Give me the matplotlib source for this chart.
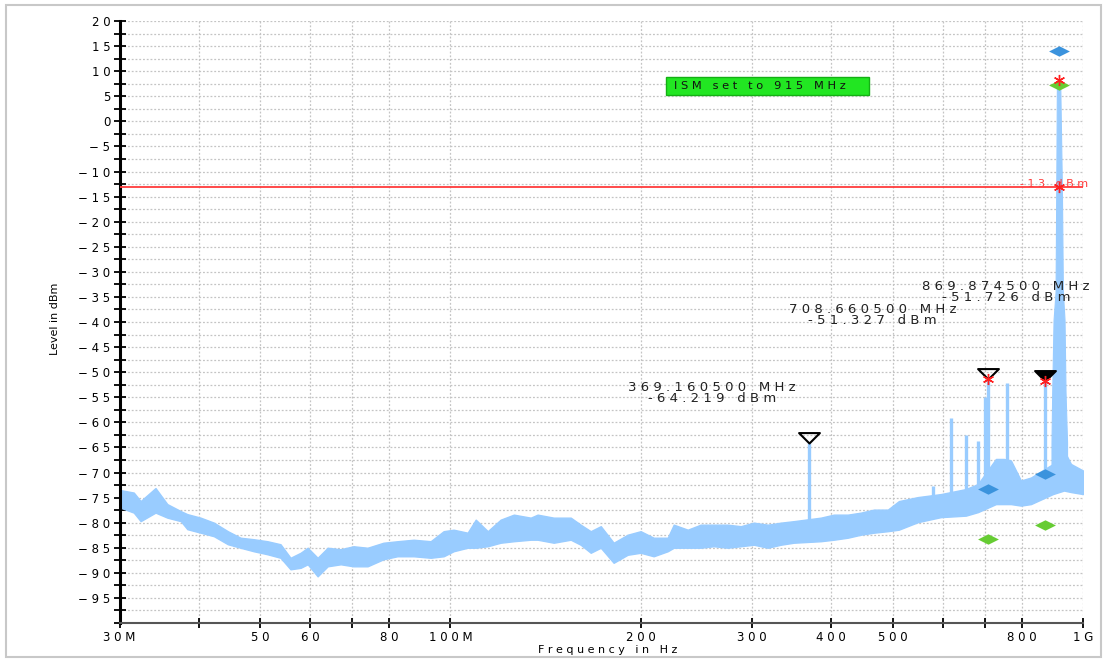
import numpy as np
import matplotlib
matplotlib.use('Agg')
import matplotlib.pyplot as plt
import matplotlib.transforms as mtransforms
from matplotlib.path import Path
from matplotlib.markers import MarkerStyle
from matplotlib.patches import Rectangle
from matplotlib.ticker import FixedLocator, MultipleLocator, NullLocator

# ---- trace (MHz / dBm) ----
floor_freq = [30.1, 31.6, 32.4, 34.2, 35.7, 37.5, 38.4, 40.3, 42.3, 44.5, 46.6, 48.9, 51.4, 53.9,
              55.9, 58.0, 59.5, 61.7, 64.0, 67.1, 70.3, 74.0, 78.4, 82.5, 87.5, 93.1, 97.6, 101.2,
              106.5, 109.7, 114.6, 120.1, 126.0, 134.0, 137.4, 145.7, 155.0, 160.7, 166.7, 172.9,
              181.2, 190.7, 199.9, 209.6, 220.6, 225.5, 237.3, 248.7, 260.8, 274.4, 287.8, 301.8,
              317.5, 332.9, 349.0, 385.1, 403.8, 424.9, 445.5, 467.1, 491.5, 511.6, 548.3, 596.2,
              653.0, 682.2, 728.4, 749.9, 769.3, 797.8, 827.4, 896.4, 933.1, 957.1, 1000.0]
floor_hi = [-73.5, -74.0, -75.7, -73.1, -76.3, -77.7, -78.3, -79.0, -80.0, -81.7, -83.0, -83.3, -83.7, -84.3,
            -87.0, -86.0, -85.0, -87.0, -85.0, -85.3, -84.7, -85.0, -84.0, -83.7, -83.4, -83.7, -81.7, -81.4,
            -82.0, -79.4, -81.7, -79.4, -78.4, -79.0, -78.4, -79.0, -79.0, -80.4, -81.7, -80.7,
            -84.0, -82.4, -81.7, -83.0, -83.0, -80.4, -81.4, -80.4, -80.4, -80.4, -80.7, -80.0,
            -80.4, -80.0, -79.7, -79.0, -78.4, -78.4, -78.0, -77.4, -77.4, -75.7, -74.9, -74.3,
            -73.3, -72.3, -67.3, -67.3, -67.6, -71.6, -71.0, -68.3, -65.6, -68.3, -69.6]
floor_lo = [-77.0, -78.0, -79.7, -78.0, -79.0, -79.7, -81.3, -82.0, -82.7, -84.3, -85.0, -85.7, -86.3, -87.0,
            -89.3, -89.0, -88.3, -90.7, -88.7, -88.3, -88.7, -88.7, -87.3, -86.7, -86.7, -87.0, -86.7, -85.7,
            -85.0, -85.0, -84.7, -84.0, -83.7, -83.4, -83.4, -84.0, -83.4, -84.4, -86.0, -85.0,
            -88.0, -86.4, -86.0, -86.7, -85.7, -85.0, -85.0, -85.0, -84.7, -85.0, -84.7, -84.4,
            -85.0, -84.4, -84.0, -83.7, -83.4, -83.0, -82.4, -82.0, -81.7, -81.4, -79.9, -78.9,
            -78.6, -77.9, -76.3, -76.3, -76.3, -76.6, -76.3, -74.3, -73.6, -73.9, -74.3]

spike_freq = [369.16, 579.1, 618.3, 653.0, 682.2, 699.8, 708.66, 758.2, 869.87]
spike_top = [-64.2, -72.6, -59.1, -62.6, -63.8, -55.0, -51.3, -52.1, -51.7]
spike_base = [-81.0, -77.0, -76.0, -75.0, -74.0, -72.0, -72.0, -70.0, -70.0]

carrier_freq = [891.7, 894.0, 898.4, 905.0, 907.3, 909.3, 915.0, 920.7, 926.0, 929.4, 935.0, 938.4, 943.6]
carrier_top = [-64.0, -54.0, -39.6, -34.0, -13.0, 6.5, 7.0, 6.5, -13.0, -34.0, -39.6, -54.0, -64.0]

# ---- markers ----
marker_freq = [369.1605, 708.6605, 869.8745]
marker_level = [-64.219, -51.327, -51.726]
marker_filled = [False, False, True]
marker_text = ['369.160500 MHz\n-64.219 dBm', '708.660500 MHz\n-51.327 dBm', '869.874500 MHz\n-51.726 dBm']
label_freq = [259.4, 464.6, 755.0]
label_level = [-54.1, -38.6, -34.0]

blue_freq = [915.0, 708.66, 869.87]
blue_level = [14.0, -73.3, -70.2]
green_freq = [915.0, 708.66, 869.87]
green_level = [7.2, -83.3, -80.5]
red_freq = [915.0, 915.0, 708.66, 869.87]
red_level = [8.3, -13.0, -51.327, -51.726]

limit_level = -13

x_ticks = [30, 40, 50, 60, 70, 80, 100, 200, 300, 400, 500, 600, 700, 800, 1000]
x_labels = ['30M', '', '50', '60', '', '80', '100M', '200', '300', '400', '500', '', '', '800', '1G']
y_ticks = list(range(20, -100, -5))

TRACE = '#99ccff'


def spaced(s):
    # the analyzer font is drawn with wide letter spacing
    return '\n'.join(' '.join(line) for line in s.split('\n'))


tri = MarkerStyle(Path([(-1, 1), (1, 1), (0, 0), (-1, 1)], closed=True))
diamond = MarkerStyle(Path([(-1, 0), (0, 0.5), (1, 0), (0, -0.5), (-1, 0)], closed=True))

fig = plt.figure(figsize=(11.12, 6.6), dpi=100)
ax = fig.add_axes([119.5 / 1112, 1 - 623 / 660, (1083 - 119.5) / 1112, (623 - 21) / 660])
ax.set_xscale('log')
ax.set_xlim(30, 1000)
ax.set_ylim(-100, 20)

# trace
ax.fill_between(floor_freq, floor_lo, floor_hi, color=TRACE, lw=1.0, zorder=2)
ax.vlines(spike_freq, spike_base, spike_top, color=TRACE, lw=2.4, zorder=2)
ax.fill_between(carrier_freq, -72, carrier_top, color=TRACE, lw=0.8, zorder=2)

# limit line
ax.axhline(limit_level, color='#ff3b3b', lw=1.3, zorder=3)
trans = mtransforms.blended_transform_factory(ax.transAxes, ax.transData)
ax.text(1.005, limit_level, spaced('-13 dBm'), transform=trans, ha='right', va='baseline',
        fontsize=8, color='#ff3b3b', clip_on=False, zorder=4)

# marker symbols
ax.plot(blue_freq, blue_level, ls='none', marker=diamond, ms=15, color='#3b93dd', mew=0, zorder=5)
ax.plot(green_freq, green_level, ls='none', marker=diamond, ms=15, color='#66cc33', mew=0, zorder=5)
for f, lv, filled in zip(marker_freq, marker_level, marker_filled):
    ax.plot([f], [lv], ls='none', marker=tri, ms=15, mec='black', mew=1.5,
            mfc='black' if filled else 'none', zorder=6)
ax.plot(red_freq, red_level, ls='none', marker=(6, 2, 0), ms=8, color='#ff2020', mew=1.0, zorder=7)

for txt, f, lv in zip(marker_text, label_freq, label_level):
    ax.text(f, lv, spaced(txt), ha='center', va='center', fontsize=9.5, color='#222222',
            linespacing=0.8, zorder=6)

# green note
ax.add_patch(Rectangle((219.0, 5.3), 458.8 - 219.0, 8.8 - 5.3, facecolor='#22e622',
                       edgecolor='#14b014', lw=1.0, zorder=5))
ax.text(225.5, 7.05, spaced('ISM set to 915 MHz'), ha='left', va='center', fontsize=8.2,
        color='#111111', zorder=6)

# axes styling
for s in ['top', 'right']:
    ax.spines[s].set_visible(False)
ax.spines['left'].set_linewidth(2.2)
ax.spines['left'].set_color('black')
ax.spines['bottom'].set_linewidth(1.5)
ax.spines['bottom'].set_color('#555555')

ax.xaxis.set_major_locator(FixedLocator(x_ticks))
ax.xaxis.set_minor_locator(NullLocator())
ax.set_xticklabels([spaced(l) for l in x_labels])
ax.yaxis.set_major_locator(FixedLocator(y_ticks))
ax.yaxis.set_minor_locator(MultipleLocator(2.5))
ax.set_yticklabels([spaced(str(v).replace('-', '\u2212')) for v in y_ticks])

ax.tick_params(axis='y', which='both', direction='inout', length=9, width=1.3, color='black',
               labelsize=8.5, pad=2)
ax.tick_params(axis='x', which='both', direction='inout', length=7, width=1.3, color='black',
               labelsize=8.5, pad=2.5)

ax.grid(True, which='major', axis='x', ls=(0, (1.5, 1.5)), color='#c4c4c4', lw=0.9, zorder=0)
ax.grid(True, which='both', axis='y', ls=(0, (1.5, 1.5)), color='#c4c4c4', lw=0.9, zorder=0)
ax.set_axisbelow(True)

fig.text(55 / 1112, 1 - 319 / 660, 'Level in dBm', rotation=90, fontsize=8, ha='center', va='center')
fig.text(608 / 1112, 1 - 650 / 660, spaced('Frequency in Hz'), fontsize=8, ha='center', va='center')

fig.patches.append(Rectangle((6 / 1112, 3 / 660), 1095 / 1112, 652 / 660, transform=fig.transFigure,
                             fill=False, edgecolor='#c8c8c8', lw=1.5, figure=fig))

fig.savefig('out.png', dpi=100)
